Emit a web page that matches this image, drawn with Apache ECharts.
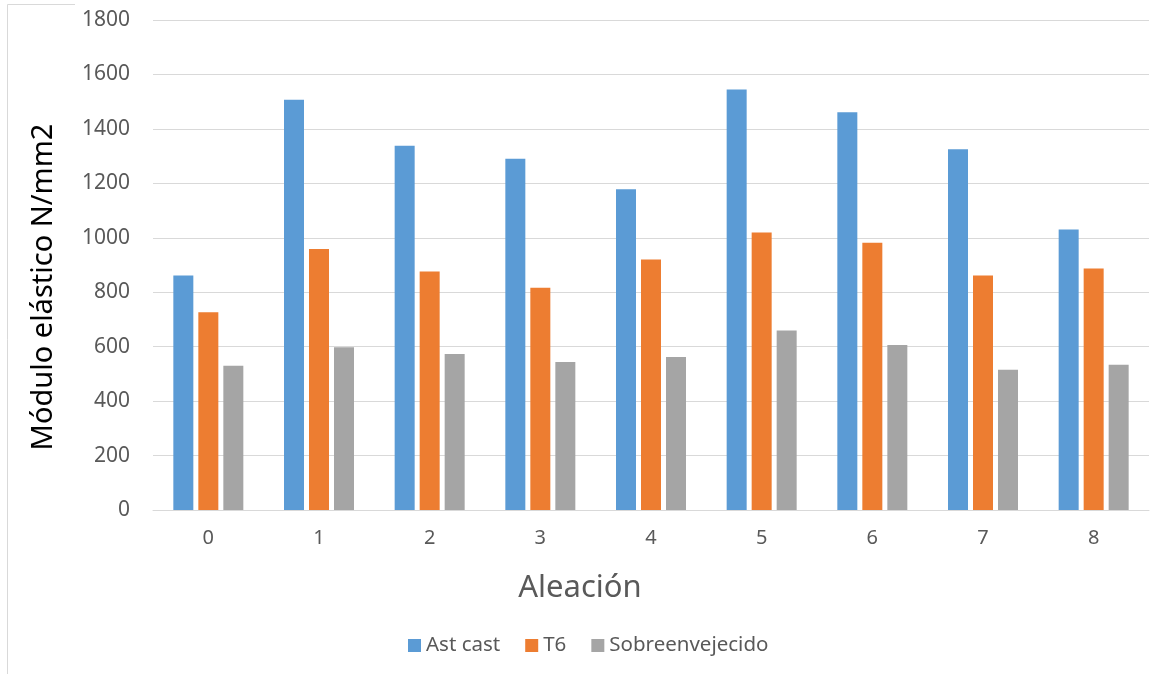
<!DOCTYPE html>
<html>
<head>
<meta charset="utf-8">
<script src="https://cdn.jsdelivr.net/npm/echarts@6/dist/echarts.min.js"></script>
<style>
html,body{margin:0;padding:0;background:#fff;}
#chart{width:1151px;height:674px;}
</style>
</head>
<body>
<div id="chart"></div>
<script>
const categories = ['0','1','2','3','4','5','6','7','8'];
const astCast = [861, 1507, 1338, 1290, 1178, 1545, 1461, 1325, 1030];
const t6 = [726, 959, 876, 816, 920, 1019, 982, 861, 887];
const sobreenvejecido = [530, 598, 573, 544, 562, 659, 606, 515, 534];
const seriesNames = ['Ast cast', 'T6', 'Sobreenvejecido'];
const yTicks = [0, 200, 400, 600, 800, 1000, 1200, 1400, 1600, 1800];

const chart = echarts.init(document.getElementById('chart'), null, {renderer: 'canvas'});
const font = '"Noto Sans", "Open Sans", sans-serif';
const colors = ['#5B9BD5', '#ED7D31', '#A5A5A5'];
const seriesData = [astCast, t6, sobreenvejecido];

chart.setOption({
  animation: false,
  backgroundColor: '#fff',
  color: colors,
  textStyle: {fontFamily: font},
  grid: {left: 153, right: 2, top: 20, bottom: 164, containLabel: false},
  xAxis: {
    type: 'category',
    data: categories,
    axisLine: {show: true, lineStyle: {color: '#D9D9D9', width: 1}},
    axisTick: {show: false},
    axisLabel: {color: '#595959', fontSize: 20, fontFamily: font, margin: 18}
  },
  yAxis: {
    type: 'value',
    min: yTicks[0],
    max: yTicks[yTicks.length - 1],
    interval: yTicks[1] - yTicks[0],
    axisLine: {show: false},
    axisTick: {show: false},
    axisLabel: {color: '#595959', fontSize: 21, fontFamily: font, margin: 23, formatter: v => String(v)},
    splitLine: {lineStyle: {color: '#D9D9D9', width: 1}}
  },
  legend: {
    data: seriesNames,
    left: 403,
    top: 630,
    itemWidth: 13,
    itemHeight: 13,
    itemGap: 25,
    icon: 'rect',
    textStyle: {color: '#595959', fontSize: 20.5, fontFamily: font}
  },
  series: seriesNames.map((name, i) => ({
    name: name,
    type: 'bar',
    data: seriesData[i],
    barWidth: 20,
    barGap: '25%',
    itemStyle: {color: colors[i]}
  })),
  graphic: [
    {
      type: 'text',
      x: 44, y: 287,
      rotation: Math.PI / 2,
      style: {
        text: 'Módulo elástico N/mm2',
        font: '29px "Noto Sans", sans-serif',
        fill: '#000000',
        align: 'center',
        verticalAlign: 'middle'
      }
    },
    {
      type: 'text',
      x: 580, y: 588,
      style: {
        text: 'Aleación',
        font: '31px "Noto Sans", sans-serif',
        fill: '#595959',
        align: 'center',
        verticalAlign: 'middle'
      }
    },
    {
      type: 'polyline',
      shape: {points: [[7.5, 674], [7.5, 4.5], [75, 4.5]]},
      style: {stroke: '#D9D9D9', lineWidth: 1, fill: null}
    }
  ]
});
</script>
</body>
</html>
